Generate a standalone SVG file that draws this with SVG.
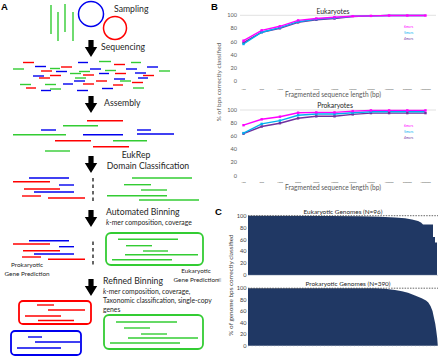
<svg xmlns="http://www.w3.org/2000/svg" width="440" height="356" viewBox="0 0 440 356">
<style>
.r{stroke:#ff0000;stroke-width:1.4}
.b{stroke:#0000ee;stroke-width:1.4}
.g{stroke:#33cc33;stroke-width:1.4}
.t{font-family:Lato,"Liberation Sans",sans-serif;fill:#262626}
.lab{font-family:"Liberation Sans",Arial,sans-serif;font-weight:bold;font-size:9.5px;fill:#000}
.ax{font-family:Lato,"Liberation Sans",sans-serif;fill:#595959;font-size:5.6px;text-anchor:end}
.xt{font-family:Lato,"Liberation Sans",sans-serif;fill:#595959;font-size:2.6px;text-anchor:middle}
.lg{font-family:Lato,"Liberation Sans",sans-serif;font-size:3.4px}
.m6{fill:none;stroke:#ff00ff;stroke-width:1.4}
.m5{fill:none;stroke:#00b0f0;stroke-width:1.4}
.m4{fill:none;stroke:#7030a0;stroke-width:1.4}
.box{fill:none;stroke-width:1.8}
.bar{fill:#203864}
</style>
<defs>
<path id="arr" d="M-2.6,0 H2.6 V7 H6.2 L0,17 L-6.2,7 H-2.6 Z" fill="#000"/>
</defs>

<text class="lab" x="1" y="10">A</text>
<text class="lab" x="211" y="10">B</text>
<text class="lab" x="215" y="215">C</text>

<g id="sampling">
<line class="g" x1="51" y1="5" x2="51" y2="34"/>
<line class="g" x1="58" y1="12" x2="58" y2="41"/>
<line class="g" x1="65" y1="4" x2="65" y2="32"/>
<line class="g" x1="73" y1="12" x2="73" y2="41"/>
<circle cx="91" cy="14" r="12.5" fill="none" stroke="#0000ee" stroke-width="1.5"/>
<circle cx="115" cy="28" r="11.5" fill="none" stroke="#ff0000" stroke-width="1.5"/>
<text class="t" x="114" y="12" font-size="8.7">Sampling</text>
</g>

<g id="sequencing">
<text class="t" x="101" y="50" font-size="8.7">Sequencing</text>
<line class="r" x1="23" y1="62.5" x2="34" y2="62.5"/>
<line class="b" x1="78" y1="62.5" x2="88" y2="62.5"/>
<line class="g" x1="99" y1="61.5" x2="111" y2="61.5"/>
<line class="g" x1="131" y1="62.5" x2="141" y2="62.5"/>
<line class="r" x1="114" y1="64.5" x2="125" y2="64.5"/>
<line class="b" x1="35" y1="66.5" x2="46" y2="66.5"/>
<line class="r" x1="61" y1="67" x2="72" y2="67"/>
<line class="b" x1="147" y1="67" x2="158" y2="67"/>
<line class="g" x1="13" y1="69" x2="24" y2="69"/>
<line class="g" x1="50" y1="68.5" x2="60" y2="68.5"/>
<line class="b" x1="90" y1="69" x2="101" y2="69"/>
<line class="b" x1="126" y1="69" x2="137" y2="69"/>
<line class="r" x1="41" y1="71" x2="52" y2="71"/>
<line class="b" x1="56" y1="71.5" x2="67" y2="71.5"/>
<line class="g" x1="79" y1="71.5" x2="90" y2="71.5"/>
<line class="g" x1="105" y1="70.5" x2="116" y2="70.5"/>
<line class="r" x1="115" y1="73.5" x2="126" y2="73.5"/>
<line class="g" x1="159" y1="71" x2="170" y2="71"/>
<line class="g" x1="70" y1="73.5" x2="81" y2="73.5"/>
<line class="b" x1="99" y1="73.5" x2="109" y2="73.5"/>
<line class="b" x1="135" y1="73" x2="146" y2="73"/>
<line class="b" x1="33" y1="76" x2="44" y2="76"/>
<line class="r" x1="50" y1="75.5" x2="61" y2="75.5"/>
<line class="r" x1="83" y1="75" x2="94" y2="75"/>
<line class="r" x1="143" y1="75.5" x2="154" y2="75.5"/>
<line class="r" x1="39" y1="78" x2="50" y2="78"/>
<line class="g" x1="75" y1="78" x2="86" y2="78"/>
<line class="b" x1="114" y1="79" x2="125" y2="79"/>
<line class="b" x1="138" y1="78" x2="148" y2="78"/>
<line class="b" x1="74" y1="81" x2="85" y2="81"/>
<line class="r" x1="96" y1="81" x2="107" y2="81"/>
<line class="g" x1="120" y1="81" x2="131" y2="81"/>
<line class="r" x1="132" y1="82.5" x2="143" y2="82.5"/>
<line class="g" x1="20" y1="84.5" x2="31" y2="84.5"/>
<line class="g" x1="45" y1="84.5" x2="56" y2="84.5"/>
<line class="b" x1="63" y1="84" x2="73" y2="84"/>
<line class="r" x1="83" y1="84" x2="94" y2="84"/>
<line class="r" x1="113" y1="85" x2="123" y2="85"/>
<line class="r" x1="26" y1="88" x2="36" y2="88"/>
<line class="b" x1="102" y1="88.5" x2="113" y2="88.5"/>
<line class="g" x1="133" y1="88" x2="144" y2="88"/>
<line class="b" x1="41" y1="90.5" x2="51" y2="90.5"/>
<line class="g" x1="50" y1="89" x2="61" y2="89"/>
<line class="b" x1="77" y1="90.5" x2="88" y2="90.5"/>
</g>

<g id="assembly">
<text class="t" x="104" y="106" font-size="8.7">Assembly</text>
<line class="r" x1="87" y1="120.7" x2="123" y2="120.7"/>
<line class="g" x1="63" y1="125.7" x2="98" y2="125.7"/>
<line class="b" x1="41" y1="130" x2="56" y2="130"/>
<line class="b" x1="137" y1="130" x2="151" y2="130"/>
<line class="g" x1="13" y1="134.7" x2="66" y2="134.7"/>
<line class="b" x1="83" y1="134.7" x2="123" y2="134.7"/>
<line class="b" x1="137" y1="134" x2="174" y2="134"/>
<line class="r" x1="55" y1="140.7" x2="91" y2="140.7"/>
<line class="g" x1="113" y1="140.7" x2="147" y2="140.7"/>
<line class="r" x1="93" y1="146.7" x2="129" y2="146.7"/>
<line class="g" x1="45" y1="151" x2="70" y2="151"/>
</g>

<g id="classification">
<text class="t" x="136" y="157.5" font-size="8.7" text-anchor="middle">EukRep</text>
<text class="t" x="148" y="168.5" font-size="8.7" text-anchor="middle">Domain Classification</text>
<line class="b" x1="29" y1="178" x2="69" y2="178"/>
<line class="r" x1="13" y1="181.7" x2="50" y2="181.7"/>
<line class="b" x1="59" y1="185" x2="74" y2="185"/>
<line class="r" x1="24" y1="189" x2="60" y2="189"/>
<line class="b" x1="34" y1="192" x2="74" y2="192"/>
<line class="r" x1="22" y1="196" x2="41" y2="196"/>
<line class="r" x1="48" y1="198" x2="85" y2="198"/>
<line x1="93" y1="178" x2="93" y2="202" stroke="#000" stroke-width="1.2" stroke-dasharray="3.5,3"/>
<line class="g" x1="132" y1="178" x2="192" y2="178"/>
<line class="g" x1="124" y1="184.7" x2="151" y2="184.7"/>
<line class="g" x1="141" y1="190" x2="167" y2="190"/>
<line class="g" x1="107" y1="195.7" x2="167" y2="195.7"/>
<line class="g" x1="139" y1="200" x2="199" y2="200"/>
</g>

<g id="automated-binning">
<text class="t" x="106" y="215" font-size="8.7">Automated Binning</text>
<text class="t" x="106" y="225" font-size="6.8"><tspan font-style="italic">k</tspan>-mer composition, coverage</text>
<line class="b" x1="29" y1="240.7" x2="69" y2="240.7"/>
<line class="r" x1="13" y1="244" x2="50" y2="244"/>
<line class="b" x1="59" y1="246.7" x2="74" y2="246.7"/>
<line class="r" x1="23" y1="250.7" x2="60" y2="250.7"/>
<line class="b" x1="34" y1="254" x2="74" y2="254"/>
<line class="r" x1="22" y1="257" x2="41" y2="257"/>
<line class="r" x1="48" y1="259.3" x2="85" y2="259.3"/>
<line x1="93" y1="241.5" x2="93" y2="265" stroke="#000" stroke-width="1.2" stroke-dasharray="3.5,3"/>
<text class="t" x="27" y="267" font-size="6.4" text-anchor="middle">Prokaryotic</text>
<text class="t" x="27" y="276" font-size="6.4" text-anchor="middle">Gene Prediction</text>
<rect class="box" x="106" y="233" width="97" height="32" rx="5" stroke="#33cc33"/>
<line class="g" x1="118" y1="239.3" x2="178" y2="239.3"/>
<line class="g" x1="126" y1="245.7" x2="152" y2="245.7"/>
<line class="g" x1="143" y1="251" x2="168" y2="251"/>
<line class="g" x1="125" y1="254.7" x2="198" y2="254.7"/>
<line class="g" x1="112" y1="259.7" x2="172" y2="259.7"/>
<text class="t" x="196" y="273" font-size="6.4" text-anchor="middle">Eukaryotic</text>
<text class="t" x="196" y="282" font-size="6.4" text-anchor="middle">Gene Prediction</text>
</g>

<g id="refined-binning">
<text class="t" x="103" y="284" font-size="8.7">Refined Binning</text>
<text class="t" x="103" y="293.5" font-size="6.8"><tspan font-style="italic">k</tspan>-mer composition, coverage,</text>
<text class="t" x="103" y="302.5" font-size="6.8">Taxonomic classification, single-copy</text>
<text class="t" x="103" y="311.5" font-size="6.8">genes</text>
<rect class="box" x="19" y="301" width="72" height="23" rx="4" stroke="#ff0000"/>
<line class="r" x1="37" y1="305" x2="54" y2="305"/>
<line class="r" x1="48" y1="310" x2="85" y2="310"/>
<line class="r" x1="25" y1="316" x2="61" y2="316"/>
<line class="r" x1="38" y1="320.5" x2="74" y2="320.5"/>
<rect class="box" x="11" y="331" width="70" height="24" rx="4" stroke="#0000ee"/>
<line class="b" x1="28" y1="337" x2="42" y2="337"/>
<line class="b" x1="35" y1="342" x2="80" y2="342"/>
<line class="b" x1="17" y1="348" x2="61" y2="348"/>
<rect class="box" x="104" y="315" width="99" height="34" rx="5" stroke="#33cc33"/>
<line class="g" x1="116" y1="322" x2="177" y2="322"/>
<line class="g" x1="124" y1="328" x2="150" y2="328"/>
<line class="g" x1="141" y1="334" x2="167" y2="334"/>
<line class="g" x1="128" y1="338" x2="198" y2="338"/>
<line class="g" x1="110" y1="343" x2="180" y2="343"/>
</g>

<g id="connectors">
<use href="#arr" x="91" y="40"/>
<use href="#arr" x="91" y="96"/>
<use href="#arr" x="91" y="156"/>
<use href="#arr" x="91" y="210"/>
<use href="#arr" x="91" y="279"/>
</g>

<!-- Panel B -->
<g id="chart-eukaryotes">
<line x1="240" y1="15.3" x2="436" y2="15.3" stroke="#d9d9d9" stroke-width="0.8"/>
<text class="t" x="333" y="13.5" font-size="6.8" text-anchor="middle">Eukaryotes</text>
<text class="ax" x="237" y="17.3">100</text>
<text class="ax" x="237" y="30.4">80</text>
<text class="ax" x="237" y="43.5">60</text>
<text class="ax" x="237" y="56.6">40</text>
<text class="ax" x="237" y="69.7">20</text>
<text class="ax" x="237" y="82.8">0</text>
<polyline class="m4" points="243.5,42.7 261.7,32.2 279.9,28.3 298.1,22.4 316.3,19.8 334.5,18.5 352.7,16.5 370.9,15.9 389.1,15.5 407.3,15.5 425.5,15.5"/>
<polyline class="m5" points="243.5,44.0 261.7,32.2 279.9,27.6 298.1,21.7 316.3,19.1 334.5,17.8 352.7,16.2 370.9,15.9 389.1,15.5 407.3,15.5 425.5,15.5"/>
<polyline class="m6" points="243.5,40.7 261.7,30.3 279.9,26.3 298.1,20.4 316.3,18.5 334.5,17.2 352.7,16.2 370.9,15.9 389.1,15.5 407.3,15.5 425.5,15.5"/>
<g fill="#7030a0"><rect x="242.3" y="41.5" width="2.4" height="2.4"/><rect x="260.5" y="31" width="2.4" height="2.4"/><rect x="278.7" y="27.1" width="2.4" height="2.4"/><rect x="296.9" y="21.2" width="2.4" height="2.4"/><rect x="315.1" y="18.6" width="2.4" height="2.4"/><rect x="333.3" y="17.3" width="2.4" height="2.4"/></g>
<g fill="#00b0f0"><rect x="242.3" y="42.8" width="2.4" height="2.4"/><rect x="260.5" y="31" width="2.4" height="2.4"/><rect x="278.7" y="26.4" width="2.4" height="2.4"/><rect x="296.9" y="20.5" width="2.4" height="2.4"/><rect x="315.1" y="17.9" width="2.4" height="2.4"/><rect x="333.3" y="16.6" width="2.4" height="2.4"/></g>
<g fill="#ff00ff"><rect x="242.3" y="39.5" width="2.4" height="2.4"/><rect x="260.5" y="29.1" width="2.4" height="2.4"/><rect x="278.7" y="25.1" width="2.4" height="2.4"/><rect x="296.9" y="19.2" width="2.4" height="2.4"/><rect x="315.1" y="17.3" width="2.4" height="2.4"/><rect x="333.3" y="16" width="2.4" height="2.4"/><rect x="351.5" y="15" width="2.4" height="2.4"/><rect x="369.7" y="14.7" width="2.4" height="2.4"/><rect x="387.9" y="14.3" width="2.4" height="2.4"/><rect x="406.1" y="14.3" width="2.4" height="2.4"/><rect x="424.3" y="14.3" width="2.4" height="2.4"/></g>
<text class="lg" x="404" y="27.5" fill="#ff00ff">6mers</text>
<text class="lg" x="404" y="33.5" fill="#00b0f0">5mers</text>
<text class="lg" x="404" y="39.5" fill="#7030a0">4mers</text>
<g class="xt">
<text x="243.5" y="89.5">100</text><text x="261.7" y="89.5">500</text><text x="279.9" y="89.5">1000</text><text x="298.1" y="89.5">3000</text><text x="316.3" y="89.5">5000</text><text x="334.5" y="89.5">10000</text><text x="352.7" y="89.5">20000</text><text x="370.9" y="89.5">50000</text><text x="389.1" y="89.5">100000</text><text x="407.3" y="89.5">500000</text><text x="425.5" y="89.5">1000000</text>
</g>
<text class="t" x="333" y="96.5" font-size="6.6" text-anchor="middle" style="fill:#595959">Fragmented sequence length (bp)</text>
</g>

<g id="chart-prokaryotes">
<line x1="240" y1="110" x2="436" y2="110" stroke="#d9d9d9" stroke-width="0.8"/>
<text class="t" x="335" y="107.5" font-size="6.8" text-anchor="middle">Prokaryotes</text>
<text class="ax" x="237" y="112">100</text>
<text class="ax" x="237" y="125.1">80</text>
<text class="ax" x="237" y="138.2">60</text>
<text class="ax" x="237" y="151.3">40</text>
<text class="ax" x="237" y="164.4">20</text>
<text class="ax" x="237" y="177.5">0</text>
<polyline class="m4" points="243.5,133.7 261.7,126.5 279.9,123.2 298.1,118.3 316.3,116.3 334.5,116.3 352.7,114.4 370.9,113.1 389.1,113.1 407.3,113.1 425.5,113.1"/>
<polyline class="m5" points="243.5,133.1 261.7,123.9 279.9,120.6 298.1,115.3 316.3,114.0 334.5,114.0 352.7,112.7 370.9,111.7 389.1,111.7 407.3,111.7 425.5,111.7"/>
<polyline class="m6" points="243.5,125.2 261.7,119.3 279.9,116.7 298.1,112.7 316.3,112.4 334.5,112.4 352.7,111.1 370.9,110.4 389.1,110.4 407.3,110.4 425.5,110.4"/>
<g fill="#7030a0"><rect x="242.3" y="132.5" width="2.4" height="2.4"/><rect x="260.5" y="125.3" width="2.4" height="2.4"/><rect x="278.7" y="122" width="2.4" height="2.4"/><rect x="296.9" y="117.1" width="2.4" height="2.4"/><rect x="315.1" y="115.1" width="2.4" height="2.4"/><rect x="333.3" y="115.1" width="2.4" height="2.4"/><rect x="351.5" y="113.2" width="2.4" height="2.4"/><rect x="369.7" y="111.9" width="2.4" height="2.4"/><rect x="387.9" y="111.9" width="2.4" height="2.4"/><rect x="406.1" y="111.9" width="2.4" height="2.4"/><rect x="424.3" y="111.9" width="2.4" height="2.4"/></g>
<g fill="#00b0f0"><rect x="242.3" y="131.9" width="2.4" height="2.4"/><rect x="260.5" y="122.7" width="2.4" height="2.4"/><rect x="278.7" y="119.4" width="2.4" height="2.4"/><rect x="296.9" y="114.1" width="2.4" height="2.4"/><rect x="315.1" y="112.8" width="2.4" height="2.4"/><rect x="333.3" y="112.8" width="2.4" height="2.4"/><rect x="351.5" y="111.5" width="2.4" height="2.4"/><rect x="369.7" y="110.5" width="2.4" height="2.4"/></g>
<g fill="#ff00ff"><rect x="242.3" y="124" width="2.4" height="2.4"/><rect x="260.5" y="118.1" width="2.4" height="2.4"/><rect x="278.7" y="115.5" width="2.4" height="2.4"/><rect x="296.9" y="111.5" width="2.4" height="2.4"/><rect x="315.1" y="111.2" width="2.4" height="2.4"/><rect x="333.3" y="111.2" width="2.4" height="2.4"/><rect x="351.5" y="109.9" width="2.4" height="2.4"/><rect x="369.7" y="109.2" width="2.4" height="2.4"/><rect x="387.9" y="109.2" width="2.4" height="2.4"/><rect x="406.1" y="109.2" width="2.4" height="2.4"/><rect x="424.3" y="109.2" width="2.4" height="2.4"/></g>
<text class="lg" x="404" y="126.5" fill="#ff00ff">6mers</text>
<text class="lg" x="404" y="132.5" fill="#00b0f0">5mers</text>
<text class="lg" x="404" y="138.5" fill="#7030a0">4mers</text>
<g class="xt">
<text x="243.5" y="182.5">100</text><text x="261.7" y="182.5">500</text><text x="279.9" y="182.5">1000</text><text x="298.1" y="182.5">3000</text><text x="316.3" y="182.5">5000</text><text x="334.5" y="182.5">10000</text><text x="352.7" y="182.5">20000</text><text x="370.9" y="182.5">50000</text><text x="389.1" y="182.5">100000</text><text x="407.3" y="182.5">500000</text><text x="425.5" y="182.5">1000000</text>
</g>
<text class="t" x="333" y="189.5" font-size="6.6" text-anchor="middle" style="fill:#595959">Fragmented sequence length (bp)</text>
</g>
<text class="t" transform="translate(221,82) rotate(-90)" font-size="6.5" text-anchor="middle" style="fill:#595959">% of bps correctly classified</text>

<!-- Panel C -->
<g id="chart-eukaryotic-genomes">
<text class="t" x="343" y="213.5" font-size="6.4" text-anchor="middle">Eukaryotic Genomes (N=96)</text>
<text class="ax" x="246.5" y="217.7" style="fill:#404040">100</text>
<text class="ax" x="246.5" y="229.6" style="fill:#404040">80</text>
<text class="ax" x="246.5" y="241.5" style="fill:#404040">60</text>
<text class="ax" x="246.5" y="253.4" style="fill:#404040">40</text>
<text class="ax" x="246.5" y="265.3" style="fill:#404040">20</text>
<text class="ax" x="246.5" y="277.2" style="fill:#404040">0</text>
<path class="bar" d="M248,275 V215.8 L330,215.9 L360,216.3 L380,216.8 L395,217.5 L405,218.3 L412,219.5 L418,221 L421,222.5 L423,224.5 H433 V237 H435 V242.5 H437 V275 Z"/>
<line x1="248" y1="215.7" x2="438" y2="215.7" stroke="#404040" stroke-width="0.8" stroke-dasharray="1.5,1.2"/>
<line x1="248" y1="275.3" x2="438" y2="275.3" stroke="#b4bccb" stroke-width="0.6"/>
</g>
<g id="chart-prokaryotic-genomes">
<text class="t" x="348" y="285.5" font-size="6.4" text-anchor="middle">Prokaryotic Genomes (N=390)</text>
<text class="ax" x="246.5" y="290.3" style="fill:#404040">100</text>
<text class="ax" x="246.5" y="301.8" style="fill:#404040">80</text>
<text class="ax" x="246.5" y="313.3" style="fill:#404040">60</text>
<text class="ax" x="246.5" y="324.8" style="fill:#404040">40</text>
<text class="ax" x="246.5" y="336.3" style="fill:#404040">20</text>
<text class="ax" x="246.5" y="347.8" style="fill:#404040">0</text>
<path class="bar" d="M248,345.7 V288.3 H375 L385,288.8 L395,290 L402,291.3 L408,292.7 L415,295.5 L421.7,298.3 L426,300.5 L428.3,302.5 L430.5,306 L432.5,311 L434,318 L435.3,324 L436.3,331 L437.2,338 L437.8,345.7 Z"/>
<line x1="248" y1="288.2" x2="438" y2="288.2" stroke="#404040" stroke-width="0.8" stroke-dasharray="1.5,1.2"/>
<line x1="248" y1="346.2" x2="438" y2="346.2" stroke="#b4bccb" stroke-width="0.8" stroke-dasharray="0.5,3.3"/>
</g>
<text class="t" transform="translate(233,285) rotate(-90)" font-size="6.4" text-anchor="middle" style="fill:#404040">% of genome  bps correctly classified</text>
<text class="t" transform="translate(221,280) rotate(-90)" font-size="6" text-anchor="middle" style="fill:#404040">n</text>
</svg>
